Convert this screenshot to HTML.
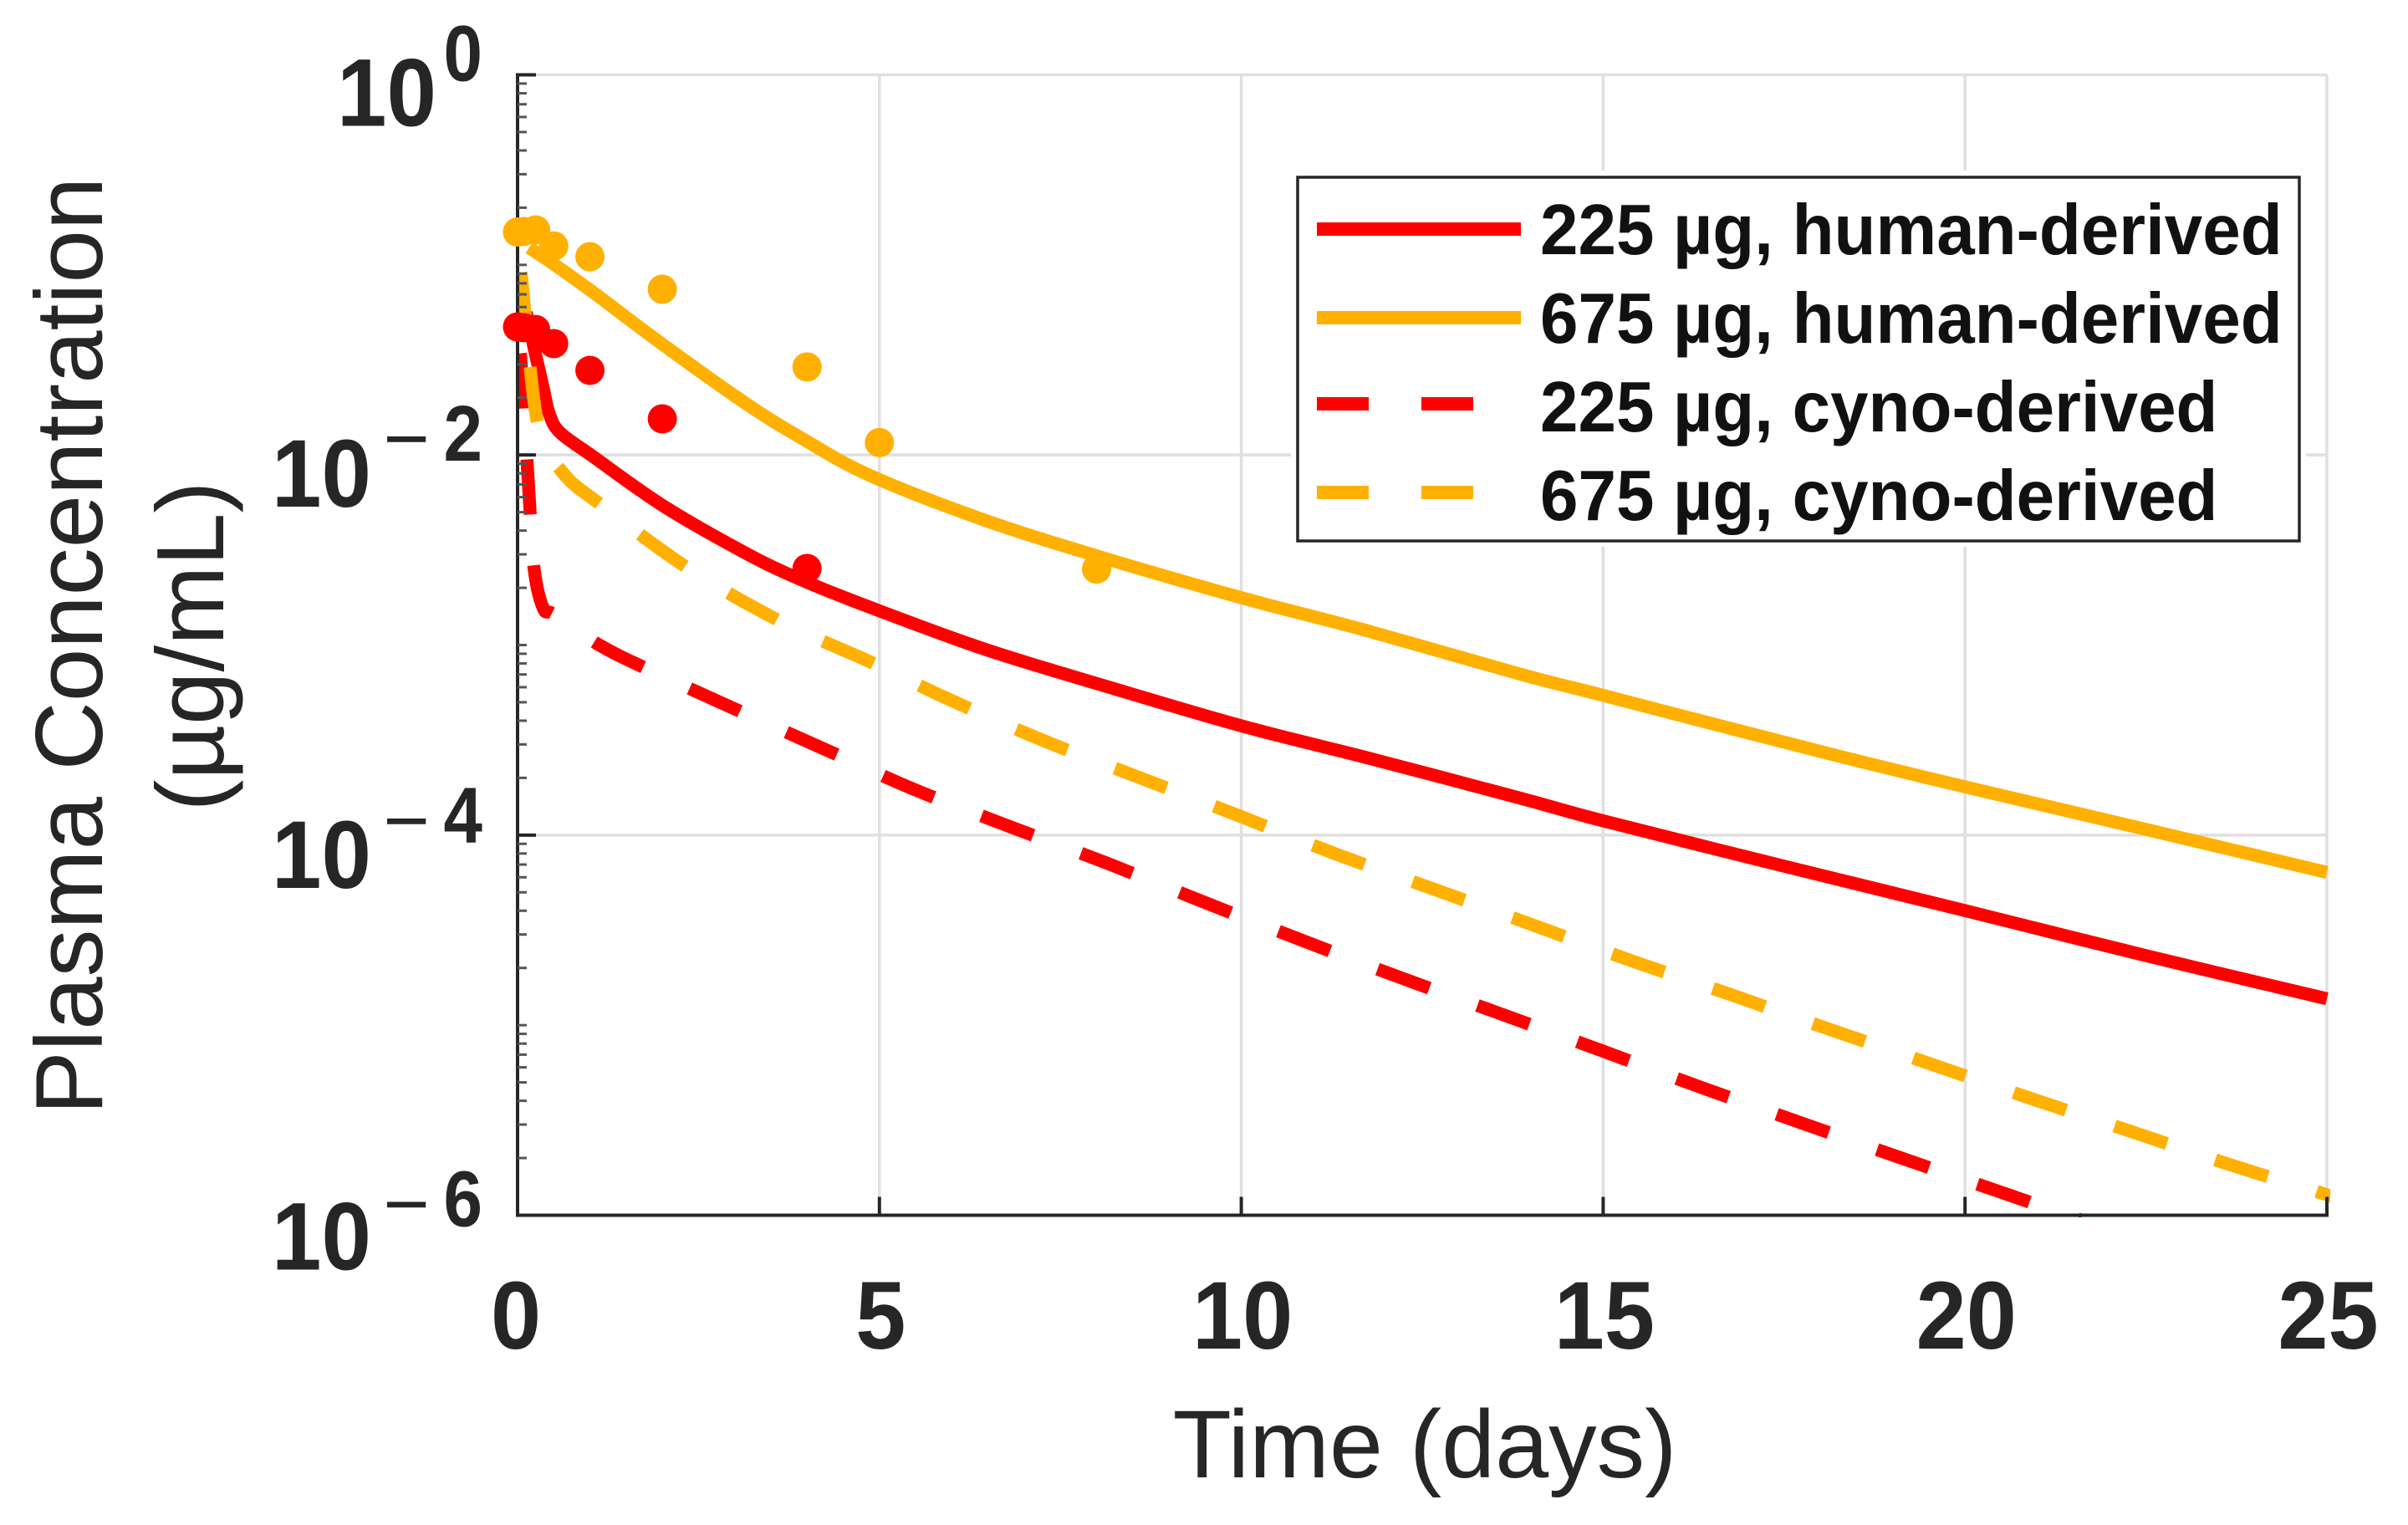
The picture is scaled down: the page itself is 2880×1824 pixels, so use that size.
<!DOCTYPE html>
<html lang="en">
<head>
<meta charset="utf-8">
<title>Plasma Concentration vs Time</title>
<style>
  html, body { margin: 0; padding: 0; background: #ffffff; }
  body { width: 2880px; height: 1824px; overflow: hidden; }
  svg { display: block; }
  text { font-family: "Liberation Sans", Arial, sans-serif; }
</style>
</head>
<body>
<svg id="chart" xmlns="http://www.w3.org/2000/svg" width="2880" height="1824" viewBox="0 0 2880 1824">
  <defs>
    <clipPath id="plot-clip"><rect x="617" y="87" width="2170" height="1369"></rect></clipPath>
  </defs>
  <rect x="0" y="0" width="2880" height="1824" fill="#ffffff"></rect>
  <g id="grid"></g>
  <g id="curves" clip-path="url(#plot-clip)"></g>
  <g id="axes"></g>
  <g id="dots"></g>
  <g id="legend"></g>
  <text x="1704" y="1767" font-size="115" fill="#262626" text-anchor="middle">Time (days)</text>
  <text transform="translate(122,772.5) rotate(-90)" font-size="114" fill="#262626" text-anchor="middle">Plasma Concentration</text>
  <text transform="translate(267,773) rotate(-90)" font-size="114" fill="#262626" text-anchor="middle">(µg/mL)</text>
</svg>
<script>
// ---- axis tick data ----
const xTicks = [0, 5, 10, 15, 20, 25];
const yTickExponents = [0, -2, -4, -6];
const yMinorDecades = [0, -1, -2, -3, -4, -5];
const yMinorMultipliers = [2, 3, 4, 5, 6, 7, 8, 9];

// ---- model curves: time (days) and log10 concentration (µg/mL) ----
const timeHuman225 = [0.12, 0.15, 0.26, 0.36, 0.44, 0.59, 1.05, 2.01, 3.17, 3.94, 4.86, 6.41, 7.97, 10, 11.76, 13.87, 15, 17.57, 20, 22.5, 25];
const logConcHuman225 = [-1.25, -1.3, -1.49, -1.658, -1.786, -1.883, -2.01, -2.267, -2.52, -2.66, -2.80, -3.016, -3.199, -3.425, -3.595, -3.807, -3.925, -4.17, -4.397, -4.634, -4.861];

const timeHuman675 = [0.16, 0.47, 1.05, 2.01, 3.17, 3.94, 4.86, 6.41, 7.97, 10, 11.76, 13.87, 15, 18.05, 20, 22.5, 25];
const logConcHuman675 = [-0.91, -0.988, -1.146, -1.42, -1.733, -1.915, -2.106, -2.337, -2.527, -2.751, -2.927, -3.155, -3.265, -3.565, -3.746, -3.97, -4.196];

const timeCyno225 = [0.02, 0.05, 0.18, 0.24, 0.36, 0.51, 1.13, 1.87, 3.14, 4.4, 5.45, 6.8, 8.16, 9.5, 10.85, 12.2, 13.58, 14.95, 16.3, 17.67, 19.05, 20.43, 21.6];
const logConcCyno225 = [-1.5, -1.52, -2.34, -2.63, -2.81, -2.84, -3.0, -3.14, -3.36, -3.575, -3.755, -3.955, -4.15, -4.355, -4.555, -4.75, -4.94, -5.13, -5.32, -5.505, -5.69, -5.87, -6.025];

const timeCyno675 = [0.05, 0.28, 0.63, 1.17, 2.36, 3.63, 4.94, 5.93, 7.25, 8.61, 9.98, 11.31, 12.68, 14.05, 15.42, 16.8, 18.16, 19.54, 20.92, 22.3, 23.67, 24.86, 25.2];
const logConcCyno675 = [-1.04, -1.84, -2.095, -2.267, -2.597, -2.875, -3.1, -3.28, -3.5, -3.70, -3.90, -4.10, -4.287, -4.476, -4.665, -4.844, -5.026, -5.206, -5.387, -5.56, -5.735, -5.875, -5.92];

// ---- observed data points ----
const obsTimes675 = [0, 0.083, 0.25, 0.5, 1, 2, 4, 5, 8];
const obsLogConc675 = [-0.827, -0.824, -0.816, -0.90, -0.957, -1.128, -1.537, -1.935, -2.6];
const obsTimes225 = [0, 0.083, 0.25, 0.5, 1, 2, 4];
const obsLogConc225 = [-1.326, -1.33, -1.34, -1.414, -1.555, -1.81, -2.597];

// ---- legend labels ----
const legendLabels = ["225 µg, human-derived", "675 µg, human-derived", "225 µg, cyno-derived", "675 µg, cyno-derived"];

// ---- axis functions ----
const NS = "http://www.w3.org/2000/svg";
const X0 = 619, X1 = 2783, Y0 = 89.5, Y1 = 1453.5;
const RED = "#ff0000", ORANGE = "#ffb000", INK = "#262626", GRID = "#dfdfdf";
const DASH = 66, GAP = 61;
function xScale(t) { return X0 + (t / 25) * (X1 - X0); }
function yScale(logV) { return Y0 + (-logV / 6) * (Y1 - Y0); }
function make(tag, attrs, parent, text) {
  const el = document.createElementNS(NS, tag);
  for (const k in attrs) el.setAttribute(k, attrs[k]);
  if (text !== undefined) el.textContent = text;
  parent.appendChild(el);
  return el;
}
function smoothPath(times, logs) {
  const p = times.map((t, i) => [xScale(t), yScale(logs[i])]);
  let d = "M" + p[0][0].toFixed(1) + " " + p[0][1].toFixed(1);
  for (let i = 0; i < p.length - 1; i++) {
    const a = p[Math.max(i - 1, 0)], b = p[i], c = p[i + 1], e = p[Math.min(i + 2, p.length - 1)];
    const c1x = b[0] + (c[0] - a[0]) / 6, c1y = b[1] + (c[1] - a[1]) / 6;
    const c2x = c[0] - (e[0] - b[0]) / 6, c2y = c[1] - (e[1] - b[1]) / 6;
    d += "C" + c1x.toFixed(1) + " " + c1y.toFixed(1) + " " + c2x.toFixed(1) + " " + c2y.toFixed(1) + " " + c[0].toFixed(1) + " " + c[1].toFixed(1);
  }
  return d;
}
// Line up the dash pattern so one dash is centred at time tCentre.
function phaseDashes(path, tCentre) {
  const target = xScale(tCentre);
  let lo = 0, hi = path.getTotalLength();
  for (let i = 0; i < 40; i++) {
    const mid = (lo + hi) / 2;
    if (path.getPointAtLength(mid).x < target) lo = mid; else hi = mid;
  }
  path.setAttribute("stroke-dashoffset", (DASH / 2 - lo).toFixed(2));
}

const gridG = document.getElementById("grid");
const axesG = document.getElementById("axes");
const curvesG = document.getElementById("curves");
const dotsG = document.getElementById("dots");
const legendG = document.getElementById("legend");

// grid lines
xTicks.forEach(function (t) {
  if (t === 0) return;
  const line = make("line", { x1: xScale(t), x2: xScale(t), y1: Y0, y2: Y1, stroke: GRID, "stroke-width": 3.5 }, gridG);
  
  
});
yTickExponents.forEach(function (e) {
  if (e === -6) return;
  const line = make("line", { x1: X0, x2: X1, y1: yScale(e), y2: yScale(e), stroke: GRID, "stroke-width": 3.5 }, gridG);
  
  
});

// curves
const solidOrange = make("path", { d: smoothPath(timeHuman675, logConcHuman675), fill: "none", stroke: ORANGE, "stroke-width": 15.5 }, curvesG);


const dashedRed = make("path", { d: smoothPath(timeCyno225, logConcCyno225), fill: "none", stroke: RED, "stroke-width": 15.5, "stroke-dasharray": DASH + " " + GAP }, curvesG);


phaseDashes(dashedRed, 9.5);
const solidRed = make("path", { d: smoothPath(timeHuman225, logConcHuman225), fill: "none", stroke: RED, "stroke-width": 15.5 }, curvesG);


const dashedOrange = make("path", { d: smoothPath(timeCyno675, logConcCyno675), fill: "none", stroke: ORANGE, "stroke-width": 15.5, "stroke-dasharray": DASH + " " + GAP }, curvesG);


phaseDashes(dashedOrange, 9.98);

// axes
const xAxis = make("line", { x1: X0 - 2, x2: X1 + 2, y1: Y1, y2: Y1, stroke: INK, "stroke-width": 4 }, axesG);


const yAxis = make("line", { x1: X0, x2: X0, y1: Y0 - 2, y2: Y1 + 2, stroke: INK, "stroke-width": 4 }, axesG);



// x ticks and labels
xTicks.forEach(function (t) {
  const tick = make("line", { x1: xScale(t), x2: xScale(t), y1: Y1, y2: Y1 - 22, stroke: INK, "stroke-width": 4 }, axesG);
  
  
  const label = make("text", { transform: "translate(" + (xScale(t) + (t === 0 ? -2 : 1.5)) + ",1613) scale(0.94,1)", "font-size": 115, "font-weight": "bold", fill: INK, "text-anchor": "middle" }, axesG, String(t));
  
  
});

// y ticks and labels
const yBaseOffsets = { "0": 61, "-2": 62, "-4": 63, "-6": 65 };
const ySupOffsets = { "0": 7, "-2": 7, "-4": 9, "-6": 13 };
yTickExponents.forEach(function (e) {
  const y = yScale(e);
  const tick = make("line", { x1: X0, x2: X0 + 22, y1: y, y2: y, stroke: INK, "stroke-width": 4 }, axesG);
  
  
  const baseEnd = e === 0 ? 522 : 444;
  const base = make("text", { transform: "translate(" + baseEnd + "," + (y + yBaseOffsets[e]) + ") scale(0.93,1)", "font-size": 115, "font-weight": "bold", fill: INK, "text-anchor": "end" }, axesG, "10");
  
  
  const supY = y + ySupOffsets[e];
  const sup = make("text", { transform: "translate(577," + supY + ") scale(0.88,1)", "font-size": 95, "font-weight": "bold", fill: INK, "text-anchor": "end" }, axesG, String(Math.abs(e)));
  
  
  if (e < 0) {
    const minus = make("text", { x: 486, y: supY + 6, "font-size": 95, fill: INK, "text-anchor": "middle" }, axesG, "\u2212");
    
    
  }
});

// y minor ticks
yMinorDecades.forEach(function (d) {
  yMinorMultipliers.forEach(function (m) {
    const y = yScale(Math.log10(m) + d - 1);
    const tick = make("line", { x1: X0, x2: X0 + 11, y1: y, y2: y, stroke: "#555555", "stroke-width": 3 }, axesG);
    
    
  });
  if (d % 2 !== 0) {
    const y = yScale(d);
    const decadeTick = make("line", { x1: X0, x2: X0 + 11, y1: y, y2: y, stroke: "#555555", "stroke-width": 3 }, axesG);
    
    
  }
});

// observed dots
obsTimes675.forEach(function (t, i) {
  const dot = make("circle", { cx: xScale(t), cy: yScale(obsLogConc675[i]), r: 17.5, fill: ORANGE }, dotsG);
  
  
});
obsTimes225.forEach(function (t, i) {
  const dot = make("circle", { cx: xScale(t), cy: yScale(obsLogConc225[i]), r: 17.5, fill: RED }, dotsG);
  
  
});

// legend
const legendHalo = make("rect", { x: 1544, y: 204, width: 1214, height: 450, fill: "#ffffff" }, legendG);


const legendBox = make("rect", { x: 1552, y: 212, width: 1198, height: 435, fill: "#ffffff", stroke: INK, "stroke-width": 3.5 }, legendG);


const legendColors = [RED, ORANGE, RED, ORANGE];
const legendDashes = ["none", "none", "62 63", "62 63"];
const legendRowY = [274, 380, 483, 589];
const legendBaselines = [304, 410, 516, 622];
legendLabels.forEach(function (label, i) {
  const key = make("line", { x1: 1575, x2: 1819, y1: legendRowY[i], y2: legendRowY[i], stroke: legendColors[i], "stroke-width": 16, "stroke-dasharray": legendDashes[i] }, legendG);
  
  
  const text = make("text", { transform: "translate(1842," + legendBaselines[i] + ") scale(0.962,1)", "font-size": 85, "font-weight": "bold", fill: "#111111" }, legendG, label);
  
  
});
</script>
</body>
</html>
